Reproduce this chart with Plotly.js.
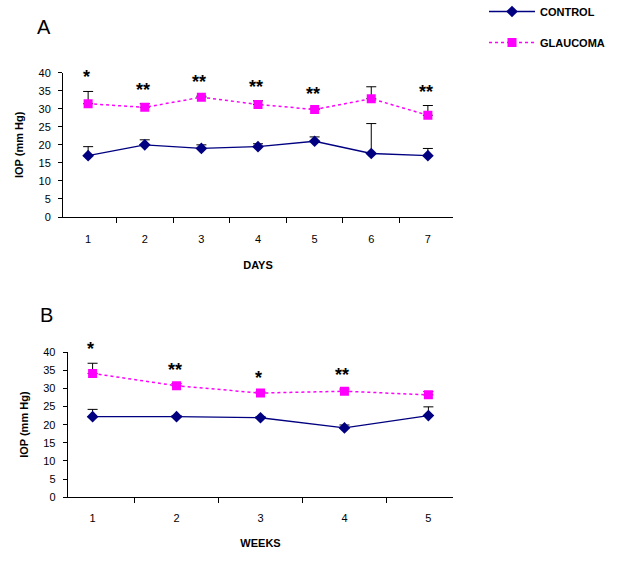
<!DOCTYPE html>
<html>
<head>
<meta charset="utf-8">
<script src="https://cdn.plot.ly/plotly-3.0.1.min.js"></script>
<style>html,body{margin:0;padding:0;background:#fff;}#chart{width:622px;height:566px;}</style>
</head>
<body>
<div id="chart"></div>
<script>
// Panel A: days
const days = ["1", "2", "3", "4", "5", "6", "7"];
const controlDays = [17, 20, 19, 19.5, 21, 17.6, 17];
const controlDaysErr = [2.5, 1.4, 1.0, 0.8, 1.2, 8.3, 2.0];
const glaucomaDays = [31.4, 30.4, 33.2, 31.2, 29.8, 32.8, 28.2];
const glaucomaDaysErr = [3.4, 1.0, 0.3, 1.0, 0.3, 3.3, 2.7];
const starsDays = ["*", "**", "**", "**", "**", "", "**"];

// Panel B: weeks
const weeks = ["1", "2", "3", "4", "5"];
const controlWeeks = [22.2, 22.2, 21.9, 19.1, 22.5];
const controlWeeksErr = [2.0, 0.3, 0.3, 0.8, 2.4];
const glaucomaWeeks = [34.1, 30.7, 28.7, 29.2, 28.2];
const glaucomaWeeksErr = [2.8, 0.6, 0.3, 0.6, 0.9];
const starsWeeks = ["*", "**", "*", "**", ""];

const FONT = "Liberation Sans, Arial, sans-serif";
const NAVY = "#000080";
const MAG = "#FF00FF";

function ctrlTrace(x, y, e, xa, ya, show) {
  return {
    x: x, y: y, xaxis: xa, yaxis: ya, type: "scatter", mode: "lines+markers",
    name: "CONTROL", showlegend: show, legendgroup: "c",
    line: {color: NAVY, width: 1.3},
    marker: {symbol: "diamond", size: 9, color: NAVY},
    error_y: {type: "data", array: e, arrayminus: e.map(() => 0), symmetric: false,
              color: "#000000", thickness: 1, width: 5}
  };
}
function glTrace(x, y, e, xa, ya, show) {
  return {
    x: x, y: y, xaxis: xa, yaxis: ya, type: "scatter", mode: "lines+markers",
    name: "GLAUCOMA", showlegend: show, legendgroup: "g",
    line: {color: MAG, width: 1.5, dash: "dot"},
    marker: {symbol: "square", size: 9, color: MAG},
    error_y: {type: "data", array: e, arrayminus: e.map(() => 0), symmetric: false,
              color: "#000000", thickness: 1, width: 5}
  };
}

const data = [
  ctrlTrace(days, controlDays, controlDaysErr, "x", "y", true),
  glTrace(days, glaucomaDays, glaucomaDaysErr, "x", "y", true),
  ctrlTrace(weeks, controlWeeks, controlWeeksErr, "x2", "y2", false),
  glTrace(weeks, glaucomaWeeks, glaucomaWeeksErr, "x2", "y2", false)
];

const annotations = [];
function addStars(cats, vals, errs, stars, xa, ya) {
  cats.forEach((c, i) => {
    if (!stars[i]) return;
    annotations.push({
      x: i, y: vals[i] + errs[i], xref: xa, yref: ya, text: "<b>" + stars[i] + "</b>",
      showarrow: false, yanchor: "bottom", yshift: 2, xshift: -2,
      font: {family: FONT, size: 18, color: "#000"}
    });
  });
}
addStars(days, glaucomaDays, glaucomaDaysErr, starsDays, "x", "y");
addStars(weeks, glaucomaWeeks, glaucomaWeeksErr, starsWeeks, "x2", "y2");

annotations.push({x: 35/622, y: 1 - 27/566, xref: "paper", yref: "paper", text: "A",
  showarrow: false, xanchor: "left", yanchor: "middle", font: {family: FONT, size: 20, color: "#000"}});
annotations.push({x: 38/622, y: 1 - 315/566, xref: "paper", yref: "paper", text: "B",
  showarrow: false, xanchor: "left", yanchor: "middle", font: {family: FONT, size: 20, color: "#000"}});

const xCommon = {
  type: "category", showline: true, linecolor: "#000", linewidth: 1,
  ticks: "outside", ticklen: 5, tickcolor: "#000", tickson: "boundaries",
  showgrid: false, zeroline: false,
  tickfont: {family: FONT, size: 11, color: "#000"}
};
const yCommon = {
  range: [0, 40], dtick: 5, tick0: 0, showline: true, linecolor: "#000", linewidth: 1,
  ticks: "outside", ticklen: 4, tickcolor: "#000", showgrid: false, zeroline: false,
  ticklabelstandoff: 5, fixedrange: true,
  tickfont: {family: FONT, size: 11, color: "#000"}
};

const layout = {
  width: 622, height: 566,
  margin: {l: 0, r: 0, t: 0, b: 0, autoexpand: false},
  paper_bgcolor: "#fff", plot_bgcolor: "#fff",
  font: {family: FONT, color: "#000"},
  showlegend: true,
  legend: {x: 484/622, y: 1 + 3/566, xanchor: "left", yanchor: "top",
           font: {family: FONT, size: 11, color: "#000", weight: "bold"},
           itemwidth: 46, tracegroupgap: 12, traceorder: "grouped", bgcolor: "rgba(0,0,0,0)"},
  xaxis: Object.assign({}, xCommon, {domain: [63/622, 453/622], anchor: "y", ticklabelstandoff: 12,
    title: {text: "<b>DAYS</b>", font: {family: FONT, size: 11, color: "#000"}, standoff: 17}}),
  yaxis: Object.assign({}, yCommon, {domain: [(566-217)/566, (566-72.7)/566], anchor: "x",
    title: {text: "<b>IOP (mm Hg)</b>", font: {family: FONT, size: 11, color: "#000"}, standoff: 12}}),
  xaxis2: Object.assign({}, xCommon, {domain: [67.7/622, 453.3/622], anchor: "y2", ticklabelstandoff: 10,
    title: {text: "<b>WEEKS</b>", font: {family: FONT, size: 11, color: "#000"}, standoff: 16}}),
  yaxis2: Object.assign({}, yCommon, {domain: [(566-497.3)/566, (566-352)/566], anchor: "x2",
    title: {text: "<b>IOP (mm Hg)</b>", font: {family: FONT, size: 11, color: "#000"}, standoff: 12}}),
  annotations: annotations
};

Plotly.newPlot("chart", data, layout, {displayModeBar: false, staticPlot: true});
</script>
</body>
</html>
